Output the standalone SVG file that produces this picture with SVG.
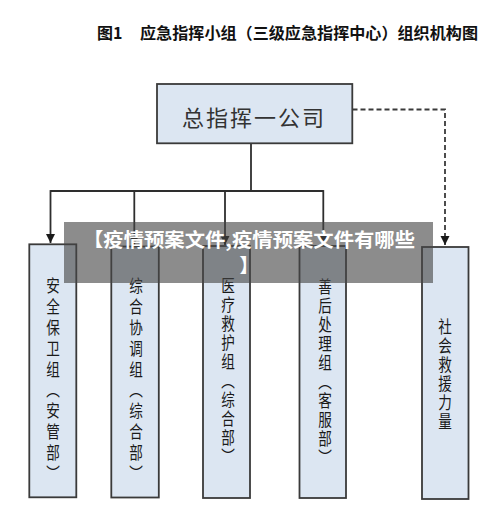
<svg xmlns="http://www.w3.org/2000/svg" width="500" height="506" viewBox="0 0 500 506">
<style>
.box{fill:#dce6f2;stroke:#3a3a3a;stroke-width:1.8}
.ln{fill:none;stroke:#2e2e2e;stroke-width:1.8}
.dash{fill:none;stroke:#3a3a3a;stroke-width:1.8;stroke-dasharray:5 3}
.vt{font-family:"Noto Sans CJK SC","Noto Sans CJK JP",sans-serif;font-size:17px;fill:#1a1a1a;writing-mode:vertical-rl;text-orientation:upright}
.title{font-family:"Noto Sans CJK SC",sans-serif;font-weight:bold;font-size:16px;fill:#111}
.ban{font-family:"Noto Sans CJK SC",sans-serif;font-weight:bold;font-size:19px;fill:#fff;text-anchor:middle}
</style>
<defs>
<marker id="ah" markerWidth="10" markerHeight="10" refX="9" refY="5" orient="auto" markerUnits="userSpaceOnUse">
<path d="M0,0.5 L9,5 L0,9.5 Z" fill="#1a1a1a"/>
</marker>
</defs>
<rect width="500" height="506" fill="#fff"/>
<g id="title">
<text class="title" x="97" y="39">图1</text>
<text class="title" x="140" y="39" textLength="338" lengthAdjust="spacingAndGlyphs">应急指挥小组（三级应急指挥中心）组织机构图</text>
</g>
<g id="connectors">
<path class="ln" d="M251,143.5 V191"/>
<path class="ln" d="M50.5,191 H323.5"/>
<path class="ln" d="M50.5,190.1 V243" marker-end="url(#ah)"/>
<path class="ln" d="M134.3,191 V245" marker-end="url(#ah)"/>
<path class="ln" d="M225,191 V245" marker-end="url(#ah)"/>
<path class="ln" d="M323.3,190.1 V245" marker-end="url(#ah)"/>
<path class="dash" d="M352.5,109.5 H445 V245" marker-end="url(#ah)"/>
</g>
<g id="node-top">
<rect class="box" x="157" y="84" width="195.3" height="59.3"/>
<text x="254" y="126" font-family="Noto Sans CJK SC,sans-serif" font-size="22" fill="#333" text-anchor="middle" letter-spacing="2">总指挥一公司</text>
</g>
<g id="node-1">
<rect class="box" x="29.3" y="244.3" width="47" height="253"/>
<text class="vt" transform="translate(53,277) scale(0.8,1)" x="0" y="0" letter-spacing="3.9">安全保卫组（安管部）</text>
</g>
<g id="node-2">
<rect class="box" x="111.3" y="246.5" width="47.5" height="251"/>
<text class="vt" transform="translate(136,277) scale(0.8,1)" x="0" y="0" letter-spacing="3.9">综合协调组（综合部）</text>
</g>
<g id="node-3">
<rect class="box" x="203" y="246" width="47" height="252"/>
<text class="vt" transform="translate(228,277) scale(0.8,1)" x="0" y="0" letter-spacing="2">医疗救护组（综合部）</text>
</g>
<g id="node-4">
<rect class="box" x="299.5" y="246" width="46.5" height="252"/>
<text class="vt" transform="translate(325,278) scale(0.8,1)" x="0" y="0" letter-spacing="2">善后处理组（客服部）</text>
</g>
<g id="node-5">
<rect class="box" x="422" y="247" width="46.5" height="252"/>
<text class="vt" transform="translate(445,318) scale(0.8,1)" x="0" y="0" letter-spacing="2">社会救援力量</text>
</g>
<g id="banner">
<rect x="64" y="222" width="369" height="61" fill="rgb(70,70,70)" fill-opacity="0.62"/>
<text class="ban" x="249" y="247" textLength="332" lengthAdjust="spacingAndGlyphs">【疫情预案文件,疫情预案文件有哪些</text>
<text class="ban" x="249" y="273">】</text>
</g>
</svg>
